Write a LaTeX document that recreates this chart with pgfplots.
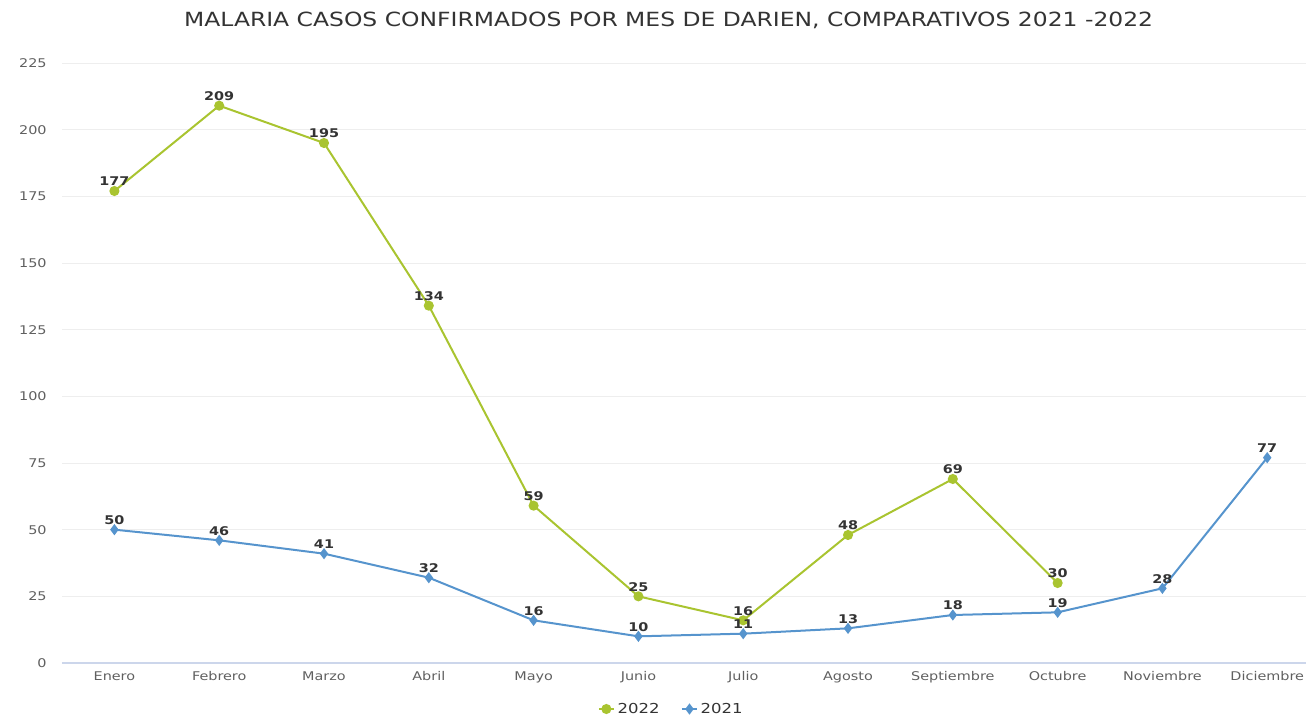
\documentclass[border=0pt]{standalone}
\usepackage{pgfplots}
\pgfplotsset{compat=1.18}
\usepackage{fontspec}
\setmainfont{DejaVu Sans}[FakeStretch=1.2]
\definecolor{cgreen}{RGB}{169,196,48}
\definecolor{cblue}{RGB}{86,148,205}
\definecolor{ctext}{RGB}{51,51,51}
\definecolor{ctick}{RGB}{96,96,96}
\definecolor{cgrid}{RGB}{238,238,238}
\definecolor{caxis}{RGB}{204,214,235}
\begin{document}
\begin{tikzpicture}
\useasboundingbox (-46.5pt,-41.25pt) rectangle (933pt,497.25pt);
\begin{axis}[
  scale only axis,
  width=933pt, height=450pt,
  xmin=-0.5, xmax=11.37,
  ymin=0, ymax=225,
  ytick={0,25,...,225},
  xtick={0,...,11},
  xticklabels={Enero,Febrero,Marzo,Abril,Mayo,Junio,Julio,Agosto,Septiembre,Octubre,Noviembre,Diciembre},
  ymajorgrids,
  grid style={cgrid, line width=0.6pt},
  axis x line*=bottom,
  axis y line*=left,
  y axis line style={draw=none},
  x axis line style={caxis, line width=0.8pt, -},
  major tick length=0pt,
  tick label style={font=\fontsize{9pt}{11pt}\selectfont, text=ctick},
  /pgf/number format/assume math mode=true,
  yticklabel style={xshift=-8pt},
  xticklabel style={yshift=-3pt},
  legend style={at={(0.49,-0.0767)}, anchor=center, draw=none, fill=none,
    font=\fontsize{10.3pt}{12pt}\selectfont, text=ctext, legend columns=2,
    /tikz/every even column/.append style={column sep=14pt}},
  legend image code/.code={\draw[mark repeat=2,mark phase=2,#1] plot coordinates {(0cm,0cm) (0.2cm,0cm) (0.4cm,0cm)};},
  legend cell align=left,
  nodes near coords,
  every node near coord/.append style={font=\bfseries\fontsize{9pt}{11pt}\selectfont, text=ctext, inner sep=3pt},
  clip=false,
]
\addplot[cgreen, line width=1.5pt, mark=*, mark size=3pt, mark options={fill=cgreen, draw=cgreen}]
  coordinates {(0,177)(1,209)(2,195)(3,134)(4,59)(5,25)(6,16)(7,48)(8,69)(9,30)};
\addlegendentry{2022}
\addplot[cblue, line width=1.5pt, mark=diamond*, mark size=3pt, mark options={fill=cblue, draw=cblue}]
  coordinates {(0,50)(1,46)(2,41)(3,32)(4,16)(5,10)(6,11)(7,13)(8,18)(9,19)(10,28)(11,77)};
\addlegendentry{2021}
\end{axis}
\node[text=ctext, font=\fontsize{14.65pt}{17pt}\selectfont] at (455pt,482pt) {MALARIA CASOS CONFIRMADOS POR MES DE DARIEN, COMPARATIVOS 2021 -2022};
\end{tikzpicture}
\end{document}
